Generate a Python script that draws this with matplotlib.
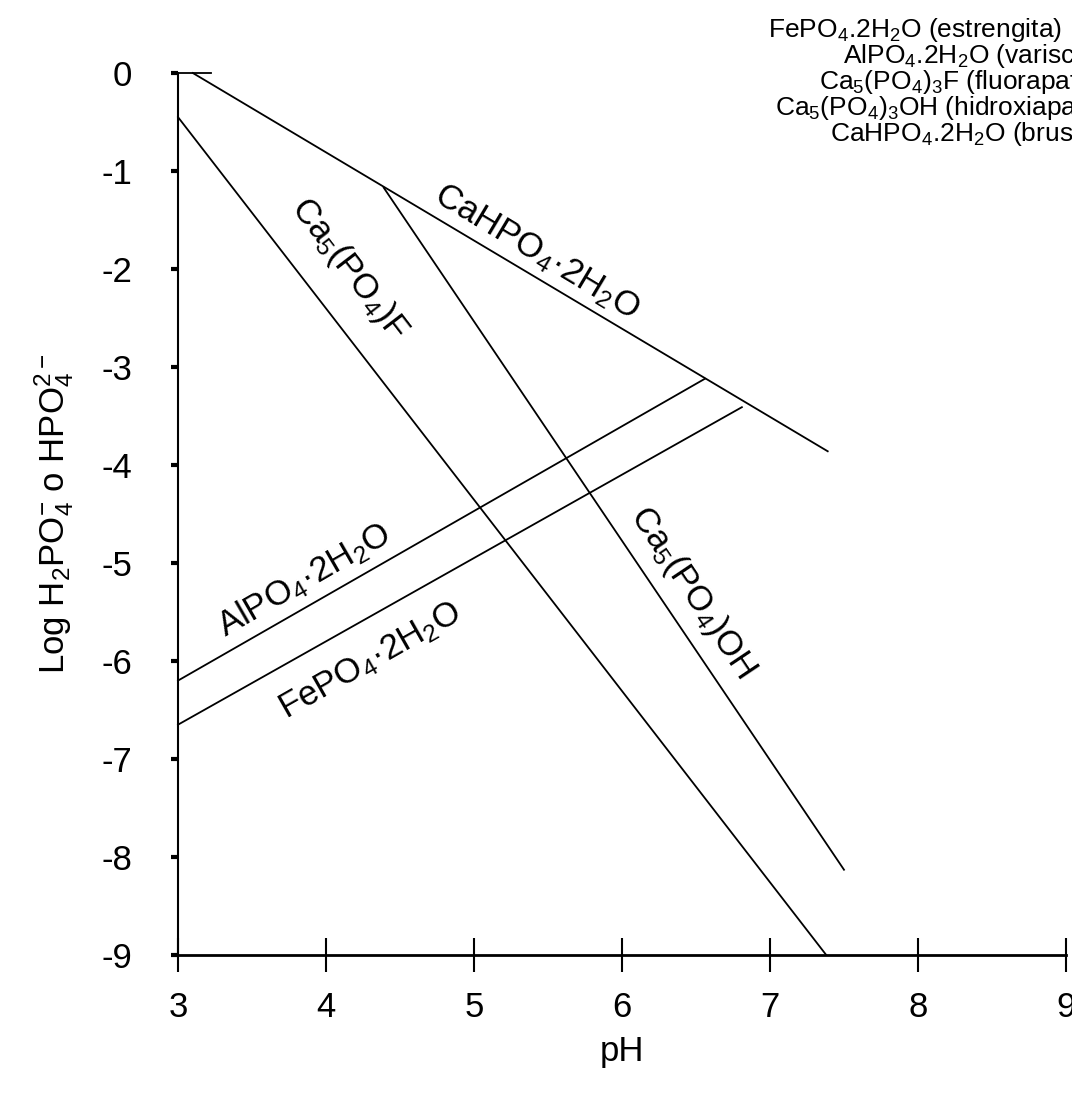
import matplotlib.pyplot as plt

plt.rcParams['font.family'] = ['Liberation Sans', 'DejaVu Sans']
plt.rcParams['mathtext.fontset'] = 'custom'
plt.rcParams['mathtext.rm'] = 'Liberation Sans'
plt.rcParams['mathtext.it'] = 'Liberation Sans'
plt.rcParams['axes.unicode_minus'] = False

# line end points (pH, log value)
cahpo4_x, cahpo4_y = [3.1, 7.39], [0.0, -3.86]
fluor_x, fluor_y = [3.0, 7.38], [-0.45, -9.0]
hidrox_x, hidrox_y = [4.39, 7.5], [-1.17, -8.13]
alpo4_x, alpo4_y = [3.0, 6.56], [-6.2, -3.12]
fepo4_x, fepo4_y = [3.0, 6.81], [-6.65, -3.41]

xticks = [3, 4, 5, 6, 7, 8, 9]
yticks = [0, -1, -2, -3, -4, -5, -6, -7, -8, -9]

labels = [
    (r'CaHPO$_4$·2H$_2$O', 5.42, -1.83, -30.9),
    (r'Ca$_5$(PO$_4$)F', 4.16, -2.0, -52.5),
    (r'Ca$_5$(PO$_4$)OH', 6.48, -5.3, -56.2),
    (r'AlPO$_4$·2H$_2$O', 3.85, -5.17, 30.0),
    (r'FePO$_4$·2H$_2$O', 4.3, -6.0, 29.6),
]

legend_lines = [
    (r'FePO$_4$.2H$_2$O (estrengita)', 768),
    (r'AlPO$_4$.2H$_2$O (variscita)', 843),
    (r'Ca$_5$(PO$_4$)$_3$F (fluorapatita)', 819),
    (r'Ca$_5$(PO$_4$)$_3$OH (hidroxiapatita)', 775),
    (r'CaHPO$_4$.2H$_2$O (brushita)', 830),
]

fig = plt.figure(figsize=(10.72, 11.01), dpi=100)
ax = fig.add_axes([178 / 1072, 1 - 955 / 1101, 888 / 1072, 882 / 1101])
ax.set_xlim(3, 9)
ax.set_ylim(-9, 0)

for xs, ys in [(cahpo4_x, cahpo4_y), (fluor_x, fluor_y), (hidrox_x, hidrox_y),
               (alpo4_x, alpo4_y), (fepo4_x, fepo4_y)]:
    ax.plot(xs, ys, color='k', lw=1.3, clip_on=False)

for txt, x, y, rot in labels:
    ax.text(x, y, txt, rotation=rot, rotation_mode='anchor',
            ha='center', va='center', fontsize=25)

ax.spines['top'].set_visible(False)
ax.spines['right'].set_visible(False)
ax.spines['left'].set_linewidth(1.5)
ax.spines['bottom'].set_linewidth(2)
ax.set_xticks(xticks)
ax.set_yticks(yticks)
ax.tick_params(axis='x', direction='inout', length=24, width=1.5, labelsize=25, pad=14)
ax.tick_params(axis='y', direction='out', length=5, width=3, labelsize=25, pad=28)
# short mark at the top of the y axis
ax.plot([3, 3.22], [0, 0], color='k', lw=1.3, clip_on=False)

ax.set_xlabel('pH', fontsize=25, labelpad=8)
ax.set_ylabel(r'Log H$_2$PO$_4^{-}$ o HPO$_4^{2-}$', fontsize=25, labelpad=18)

for i, (txt, px) in enumerate(legend_lines):
    fig.text(px / 1072, 1 - (30 + 26 * i) / 1101, txt, fontsize=19,
             ha='left', va='center')

fig.savefig('out.png', dpi=100)
